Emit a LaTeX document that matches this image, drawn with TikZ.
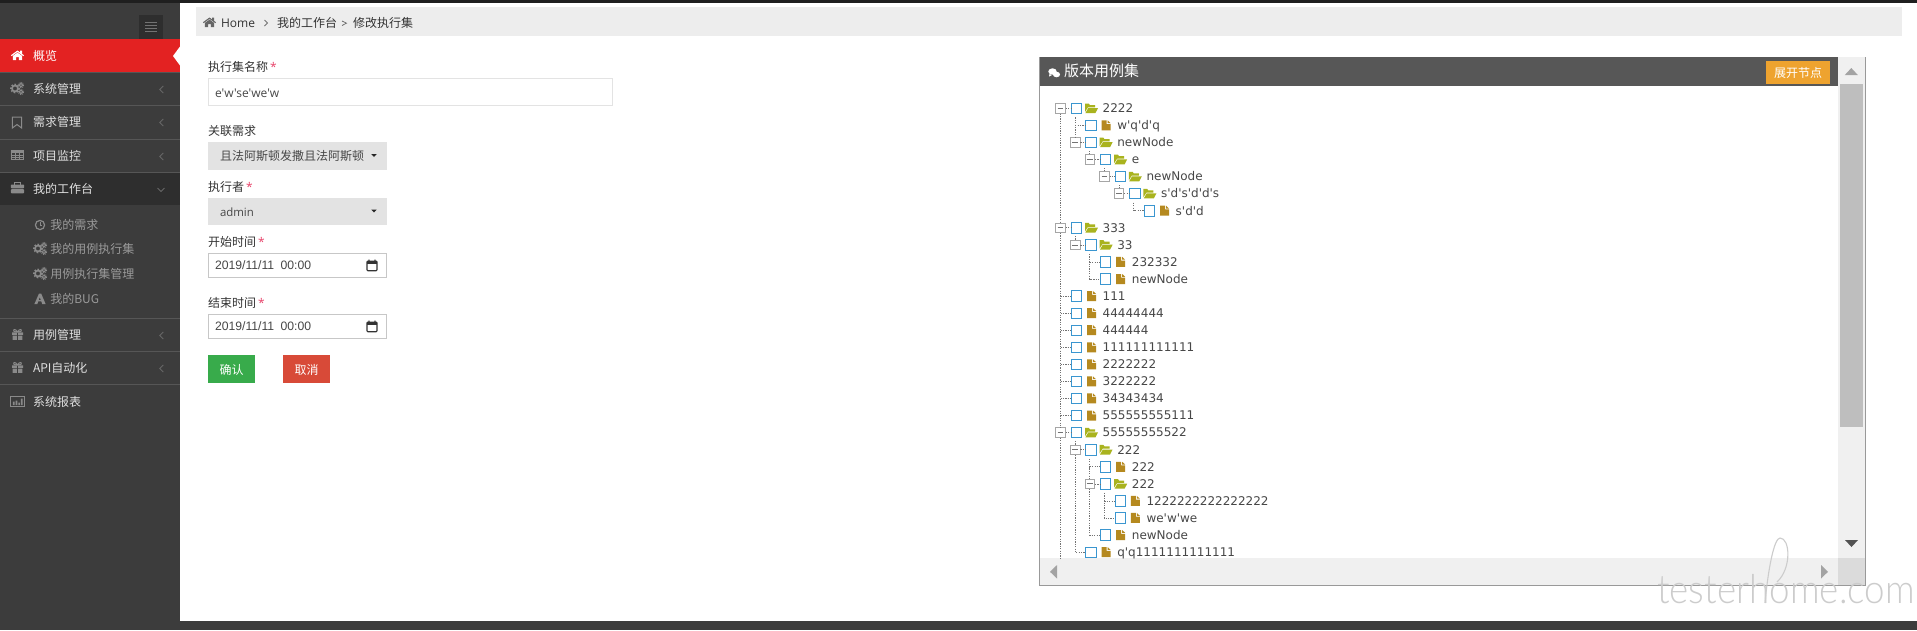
\documentclass[tikz,border=0pt]{standalone}
\usepackage{fontspec}
\setmainfont{Open Sans}
\newfontfamily\cjk{Noto Sans CJK SC}
\newfontfamily\latn{Open Sans}
\newfontfamily\treef{DejaVu Sans}
\newfontfamily\arialf{Liberation Sans}
\newfontfamily\wmf{Lato Light}
\definecolor{sidebg}{HTML}{3C3C3C}
\definecolor{sideline}{HTML}{565656}
\definecolor{sideactive}{HTML}{2E2E2E}
\definecolor{redact}{HTML}{E32222}
\definecolor{iconc}{HTML}{8A8A8A}
\definecolor{subt}{HTML}{9A9A9A}
\definecolor{chev}{HTML}{666666}
\definecolor{crumb}{HTML}{EDEDED}
\definecolor{selbg}{HTML}{E3E3E3}
\definecolor{bluechk}{HTML}{3A96D0}
\definecolor{foldc}{HTML}{A9B31E}
\definecolor{filec}{HTML}{B5891F}
\definecolor{scrollbg}{HTML}{F0F0F0}
\definecolor{thumbc}{HTML}{BEBEBE}
\definecolor{arrowc}{HTML}{A3A3A3}
\definecolor{starc}{HTML}{E8436A}
\newcommand{\fs}{\fontsize{12}{14}\selectfont}
\tikzset{
  x=1pt,y=-1pt,
  txt/.style={anchor=base west,inner sep=0pt,outer sep=0pt,font=\fs\latn,text=black!80},
  cn/.style={txt,font=\fs\cjk},
  sidetxt/.style={cn,text=white!88!black},
  subtxt/.style={cn,text=subt},
  treetxt/.style={txt,font=\fs\treef,text=black!72},
  chk/.style={draw=bluechk,line width=.8pt,minimum size=10.4pt,inner sep=0pt,outer sep=0pt,fill=white},
  tog/.style={draw=black!35,line width=.8pt,minimum size=9.6pt,inner sep=0pt,outer sep=.4pt,fill=white},
  tl/.style={draw=black!55,line width=.6pt,dash pattern=on 1.2pt off 1.2pt},
  btn/.style={inner sep=0pt,outer sep=0pt,text=white,font=\fs\cjk},
  dateb/.style={draw=black!22,line width=1.2pt,fill=white},
}
% ---------- icons (x, y, colour) ----------
\newcommand{\icHouse}[3]{\begin{scope}[shift={(#1,#2)}]
 \fill[#3] (-6.5,-.3)--(0,-5)--(2.6,-3.1)--(2.6,-5)--(4.6,-5)--(4.6,-1.6)--(6.5,-.3)--(5.8,.6)--(0,-3.6)--(-5.8,.6)--cycle;
 \fill[#3] (-4.6,.4)--(0,-2.9)--(4.6,.4)--(4.6,4.6)--(1.4,4.6)--(1.4,1.6)--(-1.4,1.6)--(-1.4,4.6)--(-4.6,4.6)--cycle;
\end{scope}}
\newcommand{\icGears}[3]{\begin{scope}[shift={(#1,#2)}]
 \draw[#3,line width=1.7pt] (-2,0) circle[radius=3];
 \draw[#3,line width=1.2pt,dash pattern=on 1.6pt off 1.6pt] (-2,0) circle[radius=4.3];
 \draw[#3,line width=1pt] (4,-3.4) circle[radius=1.7];
 \draw[#3,line width=1pt] (4,3.4) circle[radius=1.7];
 \draw[#3,line width=.8pt,dash pattern=on 1pt off 1pt] (4,-3.4) circle[radius=2.7];
 \draw[#3,line width=.8pt,dash pattern=on 1pt off 1pt] (4,3.4) circle[radius=2.7];
\end{scope}}
\newcommand{\icBookmark}[3]{\begin{scope}[shift={(#1,#2)}]
 \draw[#3,line width=1pt] (-4.6,-5.5)--(4.6,-5.5)--(4.6,5.5)--(0,2)--(-4.6,5.5)--cycle;
\end{scope}}
\newcommand{\icTable}[3]{\begin{scope}[shift={(#1,#2)}]
 \draw[#3,line width=.9pt] (-6,-4.3) rectangle (6,4.3);
 \fill[#3] (-6,-4.3) rectangle (6,-2);
 \draw[#3,line width=.7pt] (-6,.3)--(6,.3) (-2,-4.3)--(-2,4.3) (2,-4.3)--(2,4.3) (-6,2.3)--(6,2.3);
\end{scope}}
\newcommand{\icCase}[3]{\begin{scope}[shift={(#1,#2)}]
 \draw[#3,line width=1pt] (-2.8,-3.5)--(-2.8,-5.2)--(2.8,-5.2)--(2.8,-3.5);
 \fill[#3,rounded corners=.8pt] (-6.6,-3.5) rectangle (6.6,.4);
 \fill[#3,rounded corners=.8pt] (-6.6,1.2) rectangle (6.6,5.4);
\end{scope}}
\newcommand{\icClock}[3]{\begin{scope}[shift={(#1,#2)}]
 \draw[#3,line width=1.2pt] (0,0) circle[radius=4.6];
 \draw[#3,line width=.9pt] (0,-3)--(0,.4)--(2.4,.4);
\end{scope}}
\newcommand{\icAglyph}[3]{\begin{scope}[shift={(#1,#2)}]
 \fill[#3,even odd rule] (-5.6,5)--(-1,-5.4)--(1.2,-5.4)--(5.6,5)--(2.2,5)--(1.3,2.4)--(-1.8,2.4)--(-2.6,5)--cycle
  (-1.3,1)--(.8,1)--(-.2,-2)--cycle;
\end{scope}}
\newcommand{\icGift}[3]{\begin{scope}[shift={(#1,#2)}]
 \fill[#3] (-5.5,-2.2) rectangle (-.7,.4) (.7,-2.2) rectangle (5.5,.4)
           (-4.8,1.2) rectangle (-.7,5.4) (.7,1.2) rectangle (4.8,5.4);
 \draw[#3,line width=1pt] (0,-2.4) .. controls (-2,-6.5) and (-5,-5) .. (-3.4,-3) -- (0,-2.4) .. controls (2,-6.5) and (5,-5) .. (3.4,-3) -- cycle;
\end{scope}}
\newcommand{\icChart}[3]{\begin{scope}[shift={(#1,#2)}]
 \draw[#3,line width=.9pt] (-6.8,-5) rectangle (6.8,5);
 \fill[#3] (-4.6,0) rectangle (-3,3.6) (-1.8,-1) rectangle (-.2,3.6) (.8,1) rectangle (2.4,3.6) (3.4,-3) rectangle (5,3.6);
\end{scope}}
\newcommand{\icChev}[2]{\draw[chev,line width=.9pt] ({#1+1.8},{#2-3.6})--({#1-1.8},#2)--({#1+1.8},{#2+3.6});}
\newcommand{\icCal}[2]{\begin{scope}[shift={(#1,#2)}]
 \draw[black!80,line width=1.1pt,rounded corners=.8pt] (-5,-4.4) rectangle (5,5.2);
 \fill[black!80] (-5,-4.4) rectangle (5,-2);
 \fill[black!80] (-3.6,-6) rectangle (-2.4,-4) (2.4,-6) rectangle (3.6,-4);
\end{scope}}
\newcommand{\icCaret}[2]{\fill[black!85] ({#1-2.6},{#2-1.3})--({#1+2.6},{#2-1.3})--(#1,{#2+1.5})--cycle;}
\newcommand{\icFolder}[2]{\begin{scope}[shift={(#1,#2)}]
 \fill[foldc] (0,-4.8)--(3.8,-4.8)--(4.8,-3.3)--(10,-3.3)--(10,-1)--(3,-1)--(0,3.6)--cycle;
 \fill[foldc] (3.2,-.2)--(13,-.2)--(10.4,4.8)--(.4,4.8)--cycle;
\end{scope}}
\newcommand{\icFile}[2]{\begin{scope}[shift={(#1,#2)}]
 \fill[filec] (0,-5)--(5,-5)--(5,-1.3)--(9,-1.3)--(9,5)--(0,5)--cycle;
 \fill[filec] (6,-5)--(9,-2.2)--(6,-2.2)--cycle;
\end{scope}}
% ---------- tree rows: row, level, 1 = folder / 0 = file, label ----------
\newcommand{\treerow}[4]{%
 \pgfmathsetmacro{\ry}{108.3+17.07*#1}%
 \pgfmathsetmacro{\cxx}{1071+14.6*#2}%
 \pgfmathsetmacro{\txx}{\cxx-10.5}%
 \pgfmathsetmacro{\lxx}{1102.7+14.6*#2}%
 \node[chk] (c#1) at ({\cxx+5.4},\ry) {};
 \ifnum#3=1
  \node[tog] (t#1) at (\txx,\ry) {};
  \draw[black!55,line width=.7pt] ({\txx-2.8},\ry)--({\txx+2.8},\ry);
  \icFolder{\cxx+14}{\ry}
 \else
  \coordinate (t#1) at (\txx,\ry);
  \icFile{\cxx+16}{\ry}
 \fi
 \node[treetxt] (n#1) at (\lxx,{\ry+4.3}) {#4};
}
\begin{document}
\begin{tikzpicture}[x=1pt,y=-1pt]
\useasboundingbox (0,0) rectangle (1917,630);
\fill[white] (0,0) rectangle (1917,630);
% frame
\fill[sidebg] (0,0) rectangle (180,630);
\fill[sidebg] (0,621) rectangle (1917,630);
\fill[black!88] (0,0) rectangle (1917,3);
% hamburger
\fill[black!82] (139,15) rectangle (163,39);
\draw[black!55,line width=1pt] (145,22.5)--(157,22.5) (145,25.5)--(157,25.5) (145,28.5)--(157,28.5) (145,31.5)--(157,31.5);
% sidebar rows
\fill[redact] (0,39) rectangle (180,72);
\fill[white] (180,46.5)--(173,56)--(180,65.5)--cycle;
\fill[sideactive] (0,173) rectangle (180,205);
\foreach \ly in {72.3,105.5,139.3,172.5,318,351.5,384.3}
  \draw[sideline,line width=1pt] (0,\ly)--(180,\ly);
\icHouse{17.5}{55.5}{white}
\icGears{17}{88.5}{iconc}
\icBookmark{17}{122.5}{iconc}
\icTable{17}{155}{iconc}
\icCase{17.5}{188}{iconc}
\icClock{40}{225}{iconc}
\icGears{40}{248.5}{iconc}
\icGears{40}{273.5}{iconc}
\icAglyph{40}{299}{iconc}
\icGift{17.5}{334.5}{iconc}
\icGift{17.5}{367.5}{iconc}
\icChart{17.5}{401.5}{iconc}
\node[sidetxt,text=white] (m0) at (33,60.8) {概览};
\node[sidetxt] (m1) at (33,93.3) {系统管理};
\node[sidetxt] (m2) at (33,126.9) {需求管理};
\node[sidetxt] (m3) at (33,160.1) {项目监控};
\node[sidetxt] (m4) at (33,193.4) {我的工作台};
\node[subtxt] (s1) at (50.3,229.6) {我的需求};
\node[subtxt] (s2) at (50.3,253.3) {我的用例执行集};
\node[subtxt] (s3) at (50.3,278.3) {用例执行集管理};
\node[subtxt] (s4) at (50.3,303.6) {我的BUG};
\node[sidetxt] (m5) at (33,339.2) {用例管理};
\node[sidetxt] (m6) at (33,372.5) {API{\cjk 自动化}};
\node[sidetxt] (m7) at (33,406.5) {系统报表};
\icChev{161.5}{89.5}
\icChev{161.5}{122.5}
\icChev{161.5}{156.5}
\icChev{161.5}{335.5}
\icChev{161.5}{368.5}
\draw[chev,line width=.9pt] (157.5,188)--(161,191.5)--(164.5,188);
% breadcrumb
\fill[crumb] (196,7) rectangle (1902,36);
\icHouse{209.5}{22.5}{black!60}
\node[txt] (b1) at (221,27.4) {Home};
\draw[black!55,line width=.8pt] (264.5,20)--(267.5,23)--(264.5,26);
\node[cn] (b2) at (277,27.4) {我的工作台};
\draw[black!60,line width=.7pt] (342,21)--(346.5,23.2)--(342,25.5);
\node[cn] (b3) at (353,27.4) {修改执行集};
% form
\node[cn] (l1) at (208,71.4) {执行集名称};
\node[txt,text=starc] (l1s) at (270,71.4) {*};
\draw[black!11,line width=1.2pt,fill=white] (208.6,78.6) rectangle (612.4,105.4);
\node[txt,text=black!72] (v1) at (215,97) {e'w'se'we'w};
\node[cn] (l2) at (208,135.4) {关联需求};
\fill[selbg] (208,142) rectangle (387,170);
\node[cn,text=black!72] (v2) at (220,160.3) {且法阿斯顿发撒且法阿斯顿};
\icCaret{374}{155.5}
\node[cn] (l3) at (208,191.4) {执行者};
\node[txt,text=starc] (l3s) at (246,191.4) {*};
\fill[selbg] (208,198) rectangle (387,225);
\node[txt,text=black!72,font=\fontsize{11.4}{14}\selectfont\latn] (v3) at (220,216) {admin};
\icCaret{374}{211}
\node[cn] (l4) at (208,246.2) {开始时间};
\node[txt,text=starc] (l4s) at (258,246.2) {*};
\draw[dateb] (208.6,253.6) rectangle (386.4,277.4);
\node[txt,text=black!72,font=\fontsize{12.2}{14}\selectfont\arialf] (v4) at (215,269.6) {2019/11/11\hspace{3pt} 00:00};
\icCal{372}{265.5}
\node[cn] (l5) at (208,307.2) {结束时间};
\node[txt,text=starc] (l5s) at (258,307.2) {*};
\draw[dateb] (208.6,314.6) rectangle (386.4,338.4);
\node[txt,text=black!72,font=\fontsize{12.2}{14}\selectfont\arialf] (v5) at (215,330.6) {2019/11/11\hspace{3pt} 00:00};
\icCal{372}{326.5}
\fill[fill={rgb,255:red,56;green,171;blue,75}] (208,355) rectangle (255,383);
\node[btn] (ok) at (231.5,369.5) {确认};
\fill[fill={rgb,255:red,216;green,74;blue,56}] (283,355) rectangle (330,383);
\node[btn] (cancel) at (306.5,369.5) {取消};
% panel
\fill[scrollbg] (1838,57) rectangle (1865,558);
\fill[thumbc] (1840,84) rectangle (1863,427);
\fill[arrowc] (1844.8,75)--(1857.8,75)--(1851.3,68)--cycle;
\fill[black!68] (1845,540)--(1858,540)--(1851.5,547)--cycle;
\fill[scrollbg] (1040,558) rectangle (1838,585);
\fill[black!14] (1838,558) rectangle (1865,585);
\fill[arrowc] (1057,565)--(1057,578.5)--(1050,571.8)--cycle;
\fill[arrowc] (1821,565)--(1821,578.5)--(1828,571.8)--cycle;
\fill[black!66] (1040,57) rectangle (1838,86);
\draw[black!40,line width=1pt] (1039.5,57)--(1039.5,585.5)--(1865.5,585.5)--(1865.5,57);
\fill[white] (1052.5,71.5) ellipse[x radius=4.2,y radius=3.2];
\fill[white] (1056.5,74.5) ellipse[x radius=3.6,y radius=2.8];
\fill[white] (1049.5,74)--(1049,76.5)--(1052,75)--cycle;
\node[txt,font=\fontsize{15}{18}\selectfont\cjk,text=white] (title) at (1064,76.6) {版本用例集};
\fill[fill={rgb,255:red,238;green,163;blue,47}] (1766,61) rectangle (1830,84);
\node[btn] (expand) at (1798,72.5) {展开节点};
% tree
\treerow{0}{0}{1}{2222}
\treerow{1}{1}{0}{w'q'd'q}
\treerow{2}{1}{1}{newNode}
\treerow{3}{2}{1}{e}
\treerow{4}{3}{1}{newNode}
\treerow{5}{4}{1}{s'd's'd'd's}
\treerow{6}{5}{0}{s'd'd}
\treerow{7}{0}{1}{333}
\treerow{8}{1}{1}{33}
\treerow{9}{2}{0}{232332}
\treerow{10}{2}{0}{newNode}
\treerow{11}{0}{0}{111}
\treerow{12}{0}{0}{44444444}
\treerow{13}{0}{0}{444444}
\treerow{14}{0}{0}{111111111111}
\treerow{15}{0}{0}{2222222}
\treerow{16}{0}{0}{3222222}
\treerow{17}{0}{0}{34343434}
\treerow{18}{0}{0}{555555555111}
\treerow{19}{0}{1}{55555555522}
\treerow{20}{1}{1}{222}
\treerow{21}{2}{0}{222}
\treerow{22}{2}{1}{222}
\treerow{23}{3}{0}{1222222222222222}
\treerow{24}{3}{0}{we'w'we}
\treerow{25}{2}{0}{newNode}
\treerow{26}{1}{0}{q'q1111111111111}
\coordinate (treeend) at (1060.5,558);
% connectors
\draw[tl] (t0.south)--(t7.north) (t7.south)--(t19.north) (t19.south)--(t19.south |- treeend);
\foreach \r in {0,2,3,4,5,7,8,19,20,22}
  \draw[tl] (t\r.east)--(c\r.west);
\foreach \r in {1,9,11,12,13,14,15,16,17,18,21,23}
  \draw[tl] (t\r)--(c\r.west);
\draw[tl] (t1)++(0,-8)--(t1)--(t2.north);
\foreach \r in {3,4,5,8,20}
  \draw[tl] (t\r.north)--++(0,-4);
\draw[tl] (t6)++(0,-8)--(t6)--(c6.west);
\draw[tl] (t9)++(0,-8)--(t9)--(t10)--(c10.west);
\draw[tl] (t20.south)--(t26)--(c26.west);
\draw[tl] (t21)++(0,-8)--(t21)--(t22.north);
\draw[tl] (t22.south)--(t25)--(c25.west);
\draw[tl] (t23)++(0,-8)--(t23)--(t24)--(c24.west);
% watermark
\node[anchor=base west,inner sep=0pt,xscale=.92,font=\fontsize{40}{48}\selectfont\wmf,text=black!20] (wm) at (1657,603) {testerhome.com};
\draw[black!20,line width=1.1pt] (1765,603) .. controls (1768,570) and (1774,538) .. (1780,538) .. controls (1790,538) and (1792,568) .. (1777,582);
\end{tikzpicture}
\end{document}
